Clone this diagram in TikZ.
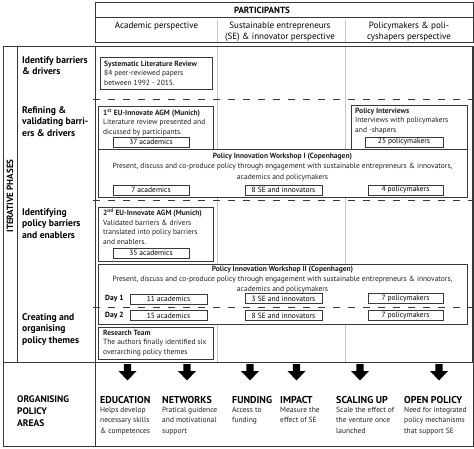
\documentclass[tikz,border=0pt]{standalone}
\usepackage{fontspec}
\setmainfont{PT Sans}
\usetikzlibrary{positioning}

\definecolor{rulegray}{gray}{0.22}
\definecolor{colgray}{gray}{0.78}
\definecolor{inkgray}{gray}{0.12}

\tikzset{
  phasebox/.style={draw=rulegray, fill=white, line width=0.9pt, inner sep=0pt, anchor=north west},
  countbox/.style={draw=rulegray, fill=white, line width=0.6pt, inner sep=0pt, minimum height=10pt, font=\fontsize{7.5}{8}\selectfont},
  boxtext/.style={anchor=north west, inner sep=0pt, align=left, text=inkgray, font=\fontsize{7.5}{9.7}\selectfont},
  wstext/.style={anchor=north, inner sep=0pt, align=center, text=inkgray, font=\fontsize{7.5}{10.3}\selectfont},
  phaselabel/.style={anchor=north west, inner sep=0pt, align=left, font=\fontsize{9.6}{11.7}\selectfont\bfseries},
  colhead/.style={anchor=north, inner sep=0pt, align=center, font=\fontsize{9}{11}\selectfont},
  phasesep/.style={draw=rulegray, line width=0.8pt, dash pattern=on 7pt off 8pt},
  colsep/.style={draw=colgray, line width=0.7pt},
  frameline/.style={draw=rulegray, line width=0.8pt},
  areatitle/.style={anchor=north west, inner sep=0pt, font=\fontsize{10}{12}\selectfont\bfseries},
  areatext/.style={anchor=north west, inner sep=0pt, align=left, text=inkgray, font=\fontsize{7.5}{10.3}\selectfont},
}

\begin{document}
\begin{tikzpicture}[x=1pt,y=-1pt]
    \useasboundingbox (0,0) rectangle (474,449);
    \fill[white] (0,0) rectangle (474,449);

    \draw[frameline] (95,2) rectangle (473,42);
    \draw[frameline] (95,17) -- (473,17);
    \draw[colsep] (217,20) -- (217,42);
    \draw[colsep] (345,20) -- (345,42);
    \node[font=\fontsize{9}{11}\selectfont\bfseries, inner sep=0pt] (part) at (262,10) {PARTICIPANTS};
    \node[colhead] (acad) at (156.5,22) {Academic perspective};
    \node[colhead] (sehead) at (280,22) {Sustainable entrepreneurs\\(SE) \& innovator perspective};
    \node[colhead] (polhead) at (409,22) {Policymakers \& poli-\\cyshapers perspective};

    \draw[colsep] (217,46) -- (217,362);
    \draw[colsep] (345,46) -- (345,362);
    \draw[frameline] (3,46) rectangle (473,446);
    \draw[frameline] (3,362) -- (473,362);
    \draw[frameline] (17,46) -- (17,362);
    \draw[frameline] (95,46) -- (95,446);
    \draw[rulegray, line width=2pt] (472.5,46) -- (472.5,362);

    \node[rotate=90, font=\fontsize{9}{11}\selectfont\bfseries, inner sep=0pt] (iter) at (10,196) {ITERATIVE PHASES};
    \node[phaselabel] (ph1) at (22,56) {Identify barriers\\\& drivers};
    \node[phaselabel] (ph2) at (22,106) {Refining \&\\validating barri-\\ers \& drivers};
    \node[phaselabel] (ph3) at (22,208) {Identifying\\policy barriers\\and enablers};
    \node[phaselabel] (ph4) at (22,313) {Creating and\\organising\\policy themes};
    \node[phaselabel, font=\fontsize{9.5}{11.8}\selectfont\bfseries] (areas) at (17,396) {ORGANISING\\POLICY\\AREAS};

    \node[phasebox, minimum width=112pt, minimum height=32pt] (slr) at (100,57.5) {};
    \node[boxtext] (slrt) at (104,60.5) {\textbf{Systematic Literature Review}\\84 peer-reviewed papers\\between 1992 - 2015.};

    \node[phasebox, minimum width=115pt, minimum height=42.5pt] (agm1) at (98,106.5) {};
    \node[boxtext] (agm1t) at (103,108.5) {\textbf{1\textsuperscript{st} EU-Innovate AGM (Munich)}\\Literature review presented and\\dicussed by participants.};
    \node[countbox, minimum width=76pt] (n37) at (151,142) {37 academics};

    \node[phasebox, minimum width=116pt, minimum height=44pt] (intv) at (351,105) {};
    \node[boxtext] (intvt) at (355,107.5) {\textbf{Policy Interviews}\\Interviews with policymakers\\and -shapers};
    \node[countbox, minimum width=78pt] (n25) at (404,142) {25 policymakers};

    \node[phasebox, minimum width=369pt, minimum height=48pt] (ws1) at (98,149) {};
    \node[wstext] (ws1t) at (282.5,153) {\textbf{Policy Innovation Workshop I (Copenhagen)}\\Present, discuss and co-produce policy through engagement with sustainable entrepreneurs \& innovators,\\academics and policymakers};
    \node[countbox, minimum width=76pt] (ws1a) at (151,190) {7 academics};
    \node[countbox, minimum width=77pt] (ws1s) at (283.5,190) {8 SE and innovators};
    \node[countbox, minimum width=75pt] (ws1p) at (405.5,190) {4 policymakers};

    \node[phasebox, minimum width=115pt, minimum height=54pt] (agm2) at (98,207) {};
    \node[boxtext] (agm2t) at (103,208.5) {\textbf{2\textsuperscript{nd} EU-Innovate AGM (Munich)}\\Validated barriers \& drivers\\translated into policy barriers\\and enablers.};
    \node[countbox, minimum width=76pt] (n35) at (151,253) {35 academics};

    \node[phasebox, minimum width=369pt, minimum height=60pt] (ws2) at (98,264) {};
    \node[wstext] (ws2t) at (282.5,265.5) {\textbf{Policy Innovation Workshop II (Copenhagen)}\\Present, discuss and co-produce policy through engagement with sustainable entrepreneurs \& innovators,\\academics and policymakers};
    \node[font=\fontsize{7.5}{8}\selectfont\bfseries, anchor=west, inner sep=0pt] (day1) at (105,299) {Day 1};
    \node[font=\fontsize{7.5}{8}\selectfont\bfseries, anchor=west, inner sep=0pt] (day2) at (105,316) {Day 2};
    \node[countbox, minimum width=77pt] (d1a) at (168.5,299) {11 academics};
    \node[countbox, minimum width=77pt] (d1s) at (283.5,298.5) {3 SE and innovators};
    \node[countbox, minimum width=75pt] (d1p) at (405.5,298.5) {7 policymakers};
    \node[countbox, minimum width=77pt] (d2a) at (168.5,315.5) {15 academics};
    \node[countbox, minimum width=77pt] (d2s) at (283.5,315.5) {8 SE and innovators};
    \node[countbox, minimum width=75pt] (d2p) at (405.5,315.5) {7 policymakers};

    \node[phasebox, minimum width=115pt, minimum height=32pt] (team) at (98,327) {};
    \node[boxtext] (teamt) at (103,329.5) {\textbf{Research Team}\\The authors finally identified six\\overarching policy themes};

    \draw[phasesep] (93,99.5) -- (473,99.5);
    \draw[phasesep] (93,200) -- (473,200);
    \draw[phasesep] (93,307) -- (473,307);

    \foreach \ax/\tx/\ttl/\dsc [count=\i] in {
        127.5/100/EDUCATION/{Helps develop\\necessary skills\\\& competences},
        187/162/NETWORKS/{Pratical guidence\\and motivational\\support},
        250/232/FUNDING/{Access to\\funding},
        296.5/280/IMPACT/{Measure the\\effect of SE},
        360/336/SCALING UP/{Scale the effect of\\the venture once\\launched},
        439/404/OPEN POLICY/{Need for integrated\\policy mechanisms\\that support SE}}
    {
        \fill[black] (\ax-3.6,364) -- (\ax+3.6,364) -- (\ax+3.6,371) -- (\ax+9,371) -- (\ax,380.5) -- (\ax-9,371) -- (\ax-3.6,371) -- cycle;
        \node[areatitle] (area\i) at (\tx,396) {\ttl};
        \node[areatext] (area\i txt) at (\tx,407) {\dsc};
    }
\end{tikzpicture}
\end{document}
